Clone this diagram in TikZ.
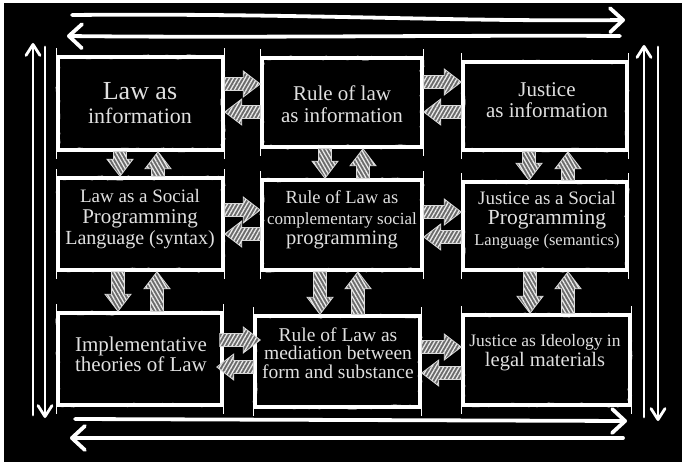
\documentclass[tikz,border=0pt]{standalone}
\usepackage{fontspec}
\setmainfont{Liberation Serif}
\usetikzlibrary{calc,patterns.meta,arrows.meta,decorations.pathmorphing}

\tikzstyle{boxTick}=[draw=white, line width=1pt]
\tikzstyle{box}=[draw=white, line width=3.5pt, inner sep=0pt,
	postaction={draw=white, line width=2pt, decorate, decoration={random steps, segment length=5pt, amplitude=1.4pt}},
	append after command={([yshift=7pt]\tikzlastnode.north west) edge[boxTick] ([yshift=-7pt]\tikzlastnode.south west)
		([yshift=7pt]\tikzlastnode.north east) edge[boxTick] ([yshift=-7pt]\tikzlastnode.south east)}]
\tikzstyle{boxText}=[text=white!88!black, align=center, inner sep=0pt]
\tikzstyle{hatch}=[preaction={fill=black!58}, draw=white!85!black, line width=0.8pt, pattern color=white!92!black,
	to path={($(\tikztostart)!6.5pt!90:(\tikztotarget)$)
		-- ($($(\tikztotarget)!17pt!(\tikztostart)$)!6.5pt!90:(\tikztotarget)$)
		-- ($($(\tikztotarget)!17pt!(\tikztostart)$)!13pt!90:(\tikztotarget)$)
		-- (\tikztotarget)
		-- ($($(\tikztotarget)!17pt!(\tikztostart)$)!13pt!-90:(\tikztotarget)$)
		-- ($($(\tikztotarget)!17pt!(\tikztostart)$)!6.5pt!-90:(\tikztotarget)$)
		-- ($(\tikztostart)!6.5pt!-90:(\tikztotarget)$) -- cycle}]
\tikzstyle{hatchSide}=[hatch, pattern={Lines[angle=60,distance=3.4pt,line width=1.3pt]}]
\tikzstyle{hatchUpDown}=[hatch, pattern={Lines[angle=120,distance=3.4pt,line width=1.3pt]}]
\tikzstyle{bigArrow}=[draw=white, line width=3.8pt, line cap=round, -{Straight Barb[round, length=13pt, width=24pt]}]
\tikzstyle{sideArrow}=[draw=white, line width=2.8pt, line cap=round, -{Straight Barb[round, length=11pt, width=14pt]}]

\pgfmathsetseed{7}

\begin{document}
\begin{tikzpicture}[x=1pt, y=-1pt]

	\useasboundingbox (0,0) rectangle (682,462);
	\fill[white] (0,0) rectangle (682,462);
	\fill[black] (4,3) rectangle (682,462);

	% Kaesten
	\node(b1) at (140.5,103.5) [box, minimum width=165pt, minimum height=93pt] {};
	\node(b2) at (342,102.5) [box, minimum width=160pt, minimum height=89pt] {};
	\node(b3) at (545,106) [box, minimum width=164pt, minimum height=88pt] {};
	\node(b4) at (140.5,224) [box, minimum width=165pt, minimum height=92pt] {};
	\node(b5) at (342,225) [box, minimum width=160pt, minimum height=90pt] {};
	\node(b6) at (545,226) [box, minimum width=164pt, minimum height=88pt] {};
	\node(b7) at (140,359) [box, minimum width=164pt, minimum height=92pt] {};
	\node(b8) at (337.5,361.5) [box, minimum width=165pt, minimum height=91pt] {};
	\node(b9) at (546.5,360) [box, minimum width=167pt, minimum height=90pt] {};

	% Texte
	\node(t1) at (140,103) [boxText, font=\fontsize{22}{24}\selectfont] {{\fontsize{26}{26}\selectfont Law as}\\information};
	\node(t2) at (342,104) [boxText, font=\fontsize{21}{22}\selectfont] {Rule of law\\as information};
	\node(t3) at (547,100) [boxText, font=\fontsize{21}{20.5}\selectfont] {Justice\\as information};
	\node(t4) at (140,219) [boxText, font=\fontsize{20}{21}\selectfont] {{\fontsize{19}{19}\selectfont Law as a Social}\\{\fontsize{21}{21}\selectfont Programming}\\Language (syntax)};
	\node(t5) at (342,220) [boxText, font=\fontsize{18.5}{20.5}\selectfont] {Rule of Law as\\{\fontsize{17}{17}\selectfont complementary social}\\{\fontsize{20.5}{20.5}\selectfont programming}};
	\node(t6) at (547,220) [boxText, font=\fontsize{19}{20.5}\selectfont] {Justice as a Social\\{\fontsize{21.5}{21.5}\selectfont Programming}\\{\fontsize{16.5}{16.5}\selectfont Language (semantics)}};
	\node(t7) at (141,354) [boxText, font=\fontsize{21}{19}\selectfont] {Implementative\\theories of Law};
	\node(t8) at (338,353) [boxText, font=\fontsize{19.5}{18.5}\selectfont] {Rule of Law as\\mediation between\\form and substance};
	\node(t9) at (545,353) [boxText, font=\fontsize{17.5}{20}\selectfont] {Justice as Ideology in\\{\fontsize{20.5}{20.5}\selectfont legal materials}};

	% Pfeile nach rechts und links
	\draw[hatchSide] (b1.east |- 0,84) to (b2.west |- 0,84);
	\draw[hatchSide] (b2.west |- 0,112) to (b1.east |- 0,112);
	\draw[hatchSide] (b2.east |- 0,82) to (b3.west |- 0,82);
	\draw[hatchSide] (b3.west |- 0,112) to (b2.east |- 0,112);
	\draw[hatchSide] (b4.east |- 0,210) to (b5.west |- 0,210);
	\draw[hatchSide] (b5.west |- 0,234) to (b4.east |- 0,234);
	\draw[hatchSide] (b5.east |- 0,212) to (b6.west |- 0,212);
	\draw[hatchSide] (b6.west |- 0,237) to (b5.east |- 0,237);
	\draw[hatchSide] ($(b7.east |- 0,340)+(-4,0)$) to ($(b8.west |- 0,340)+(7,0)$);
	\draw[hatchSide] (b8.west |- 0,367) to ($(b7.east |- 0,367)+(-7,0)$);
	\draw[hatchSide] (b8.east |- 0,347) to (b9.west |- 0,347);
	\draw[hatchSide] (b9.west |- 0,373) to (b8.east |- 0,373);

	% Pfeile nach oben und unten
	\draw[hatchUpDown] (b1.south -| 120,0) to (b4.north -| 120,0);
	\draw[hatchUpDown] (b4.north -| 158,0) to (b1.south -| 158,0);
	\draw[hatchUpDown] (b2.south -| 325,0) to (b5.north -| 325,0);
	\draw[hatchUpDown] (b5.north -| 363,0) to (b2.south -| 363,0);
	\draw[hatchUpDown] (b3.south -| 529,0) to (b6.north -| 529,0);
	\draw[hatchUpDown] (b6.north -| 568,0) to (b3.south -| 568,0);
	\draw[hatchUpDown] (b4.south -| 118,0) to (b7.north -| 118,0);
	\draw[hatchUpDown] (b7.north -| 157,0) to (b4.south -| 157,0);
	\draw[hatchUpDown] (b5.south -| 320,0) to (b8.north -| 320,0);
	\draw[hatchUpDown] (b8.north -| 358,0) to (b5.south -| 358,0);
	\draw[hatchUpDown] (b6.south -| 530,0) to (b9.north -| 530,0);
	\draw[hatchUpDown] (b9.north -| 568,0) to (b6.south -| 568,0);

	% Aeussere Pfeile
	\coordinate(topA) at (72,15);
	\coordinate(topB) at (625,20);
	\coordinate(topC) at (620,36);
	\coordinate(topD) at (67,36);
	\coordinate(botA) at (75,419);
	\coordinate(botB) at (627,421);
	\coordinate(botC) at (623,438);
	\coordinate(botD) at (70,438);
	\coordinate(leftA) at (33,415);
	\coordinate(leftB) at (33,43);
	\coordinate(leftC) at (45,47);
	\coordinate(leftD) at (45,418);
	\coordinate(rightA) at (644,417);
	\coordinate(rightB) at (644,45);
	\coordinate(rightC) at (658,47);
	\coordinate(rightD) at (658,421);

	\draw[bigArrow] (topA) .. controls (300,13) and (450,22) .. (topB);
	\draw[bigArrow] (topC) .. controls (450,35) and (250,38) .. (topD);
	\draw[bigArrow] (botA) -- (botB);
	\draw[bigArrow] (botC) -- (botD);
	\draw[sideArrow] (leftA) -- (leftB);
	\draw[sideArrow] (leftC) -- (leftD);
	\draw[sideArrow] (rightA) -- (rightB);
	\draw[sideArrow] (rightC) -- (rightD);

\end{tikzpicture}
\end{document}
